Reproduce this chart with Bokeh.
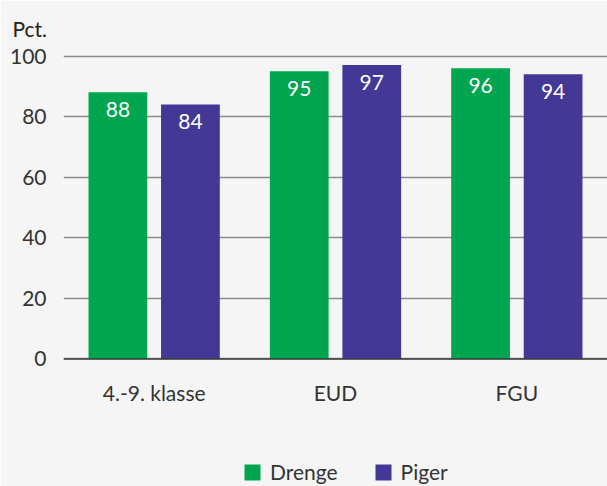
from bokeh.plotting import figure
from bokeh.models import ColumnDataSource, FactorRange, Range1d, Span, Legend, LegendItem, FixedTicker
from bokeh.transform import dodge
from bokeh.core.properties import value
from bokeh.embed import file_html
from bokeh.resources import INLINE

categories = ["4.-9. klasse", "EUD", "FGU"]
drenge = [88, 95, 96]
piger = [84, 97, 94]
series_names = ["Drenge", "Piger"]
y_ticks = [0, 20, 40, 60, 80, 100]

GREEN = "#00a54f"
PURPLE = "#433896"
BG = "#f5f5f5"
FONT = "Lato"
FS = "21px"

src = ColumnDataSource(dict(
    cat=categories,
    drenge=drenge,
    piger=piger,
    base=[0] * len(categories),
    dl=[str(v) for v in drenge],
    pl=[str(v) for v in piger],
))

# frame reaches the bottom of the canvas so the legend can sit inside it
p = figure(x_range=FactorRange(factors=categories), y_range=Range1d(-42.1, 100.5),
           width=607, height=486, output_backend="svg", toolbar_location=None,
           x_axis_location=None,
           min_border_left=63, min_border_right=0, min_border_top=52, min_border_bottom=0)
p.background_fill_color = BG
p.border_fill_color = BG
p.outline_line_color = None

p.title.text = "Pct."
p.title.text_font = FONT
p.title.text_font_size = FS
p.title.text_font_style = "normal"
p.title.text_color = "#222222"
p.title.align = "left"
p.title.offset = -51
p.title.standoff = 27

b1 = p.vbar(x=dodge("cat", -0.2, range=p.x_range), top="drenge", width=0.324, source=src,
            fill_color=GREEN, line_color=None)
b2 = p.vbar(x=dodge("cat", 0.2, range=p.x_range), top="piger", width=0.324, source=src,
            fill_color=PURPLE, line_color=None)

p.text(x=dodge("cat", -0.2, range=p.x_range), y="drenge", text="dl", source=src,
       text_color="white", text_font=value(FONT), text_font_size=FS,
       text_align="center", text_baseline="middle", y_offset=17)
p.text(x=dodge("cat", 0.2, range=p.x_range), y="piger", text="pl", source=src,
       text_color="white", text_font=value(FONT), text_font_size=FS,
       text_align="center", text_baseline="middle", y_offset=17)

# category labels under the zero line
p.text(x="cat", y="base", text="cat", source=src,
       text_color="#333333", text_font=value(FONT), text_font_size=FS,
       text_align="center", text_baseline="middle", y_offset=34)

p.xgrid.grid_line_color = None
p.ygrid.grid_line_color = "#8c8c8c"
p.ygrid.grid_line_width = 1.5
p.yaxis.ticker = FixedTicker(ticks=y_ticks)

p.add_layout(Span(location=0, dimension="width", line_color="#3a3a3a", line_width=1.5))

p.yaxis.axis_line_color = None
p.yaxis.major_tick_line_color = None
p.yaxis.minor_tick_line_color = None
p.yaxis.major_tick_out = 0
p.yaxis.major_tick_in = 0
p.yaxis.major_label_text_font = FONT
p.yaxis.major_label_text_font_size = FS
p.yaxis.major_label_text_color = "#333333"
p.yaxis.major_label_standoff = 17

legend = Legend(items=[LegendItem(label=series_names[0], renderers=[b1]),
                       LegendItem(label=series_names[1], renderers=[b2])],
                orientation="horizontal", location=(179, 2))
legend.background_fill_alpha = 0
legend.border_line_color = None
legend.padding = 0
legend.margin = 0
legend.glyph_width = 20
legend.glyph_height = 20
legend.label_height = 20
legend.label_standoff = 8
legend.spacing = 35
legend.label_text_font = FONT
legend.label_text_font_size = FS
legend.label_text_color = "#333333"
legend.label_text_baseline = "middle"
p.add_layout(legend, "center")

open("out.html", "w").write(file_html(p, INLINE))
